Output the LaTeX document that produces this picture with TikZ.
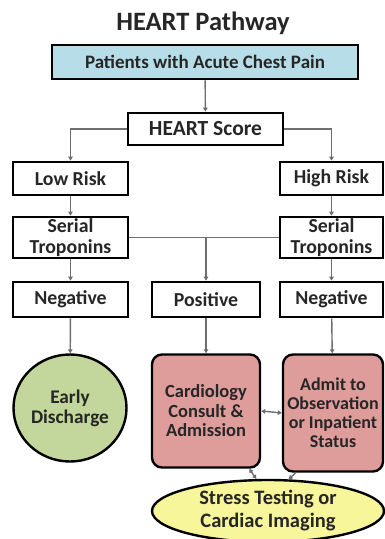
\documentclass[tikz,border=0pt]{standalone}
\usepackage{fontspec}
\setmainfont{Carlito}
\usetikzlibrary{arrows.meta,positioning,shapes.geometric}

\definecolor{patblue}{HTML}{B7DEE8}
\definecolor{earlygreen}{HTML}{C3D69B}
\definecolor{admitred}{HTML}{DE9C9B}
\definecolor{stressyellow}{HTML}{F8F69A}
\definecolor{linkgray}{HTML}{6E6E6E}
\definecolor{txtdark}{HTML}{262626}

\begin{document}
\begin{tikzpicture}[
  x=1pt, y=-1pt,
  box/.style={draw, line width=2.6pt, align=center, inner sep=0pt, text=txtdark,
    font=\bfseries\fontsize{19.8}{21}\selectfont},
  outcome/.style={draw, line width=2.4pt, rounded corners=10pt, align=center,
    fill=admitred, text=txtdark, inner sep=0pt, font=\bfseries\fontsize{18.5}{19.5}\selectfont},
  oval/.style={ellipse, draw, line width=2.4pt, align=center, inner sep=0pt,
    text=txtdark, font=\bfseries\fontsize{19.3}{20}\selectfont},
  arr/.style={-{Triangle[length=4pt,width=4.5pt]}, draw=linkgray, line width=1.4pt},
  dblarr/.style={{Triangle[length=4pt,width=4.5pt]}-{Triangle[length=4pt,width=4.5pt]},
    draw=linkgray, line width=1.4pt},
  link/.style={draw=linkgray, line width=1.4pt}
]
\useasboundingbox (0,0) rectangle (385,539);

\node[font=\bfseries\fontsize{26.5}{28}\selectfont, text=txtdark] (title) at (203,23) {HEART Pathway};

\node[box, fill=patblue, minimum width=306pt, minimum height=34pt, font=\bfseries\fontsize{19}{21}\selectfont] (patients) at (205,62) {Patients with Acute Chest Pain};
\node[box, minimum width=155pt, minimum height=32pt, font=\bfseries\fontsize{21.5}{23}\selectfont] (score) at (205.5,129) {HEART Score};

% risk branches
\node[box, minimum width=115pt, minimum height=33pt] (lowrisk) at (70.5,178.5) {Low Risk};
\node[box, minimum width=103pt, minimum height=33pt] (highrisk) at (331.5,178.5) {High Risk};

\node[box, minimum width=115pt, minimum height=41pt] (troplow) at (70.5,237.5) {Serial\\Troponins};
\node[box, minimum width=103pt, minimum height=41pt] (trophigh) at (331.5,237.5) {Serial\\Troponins};

\node[box, minimum width=115pt, minimum height=35pt] (neglow) at (70.5,299.5) {Negative};
\node[box, minimum width=108pt, minimum height=35pt] (positive) at (206,299.5) {Positive};
\node[box, minimum width=103pt, minimum height=35pt] (neghigh) at (331.5,299.5) {Negative};

% outcomes
\node[oval, fill=earlygreen, minimum width=113pt, minimum height=107pt] (early) at (70,408) {Early\\Discharge};
\node[outcome, minimum width=108pt, minimum height=113pt] (cardio) at (206,411) {Cardiology\\Consult \&\\Admission};
\node[outcome, minimum width=100pt, minimum height=117pt, font=\bfseries\fontsize{18}{19}\selectfont] (admit) at (333,413) {Admit to\\Observation\\or Inpatient\\Status};
\node[oval, fill=stressyellow, minimum width=232pt, minimum height=62pt, font=\bfseries\fontsize{20.5}{23}\selectfont] (stress) at (268,511) {Stress Testing or\\Cardiac Imaging};

\draw[arr] (patients) -- (score);
\draw[arr] (score.west) -| (lowrisk.north);
\draw[arr] (score.east) -| (highrisk.north);

\draw[arr] (lowrisk) -- (troplow);
\draw[arr] (highrisk) -- (trophigh);

\draw[link] (troplow.east) -- (trophigh.west);
\draw[arr] (troplow.east -| positive.north) -- (positive.north);

\draw[arr] (troplow) -- (neglow);
\draw[arr] (trophigh) -- (neghigh);

\draw[arr] (neglow) -- (early);
\draw[arr] (positive) -- (cardio);
\draw[arr] (neghigh) -- (admit);

\coordinate (cardioout) at ([xshift=-12pt]cardio.south east);
\coordinate (admitout) at ([xshift=14pt]admit.south west);
\draw[dblarr] (cardio.east) -- (admit.west);
\draw[dblarr] (cardioout) -- (stress.110);
\draw[arr] (admitout) -- (stress.57);

\end{tikzpicture}
\end{document}
